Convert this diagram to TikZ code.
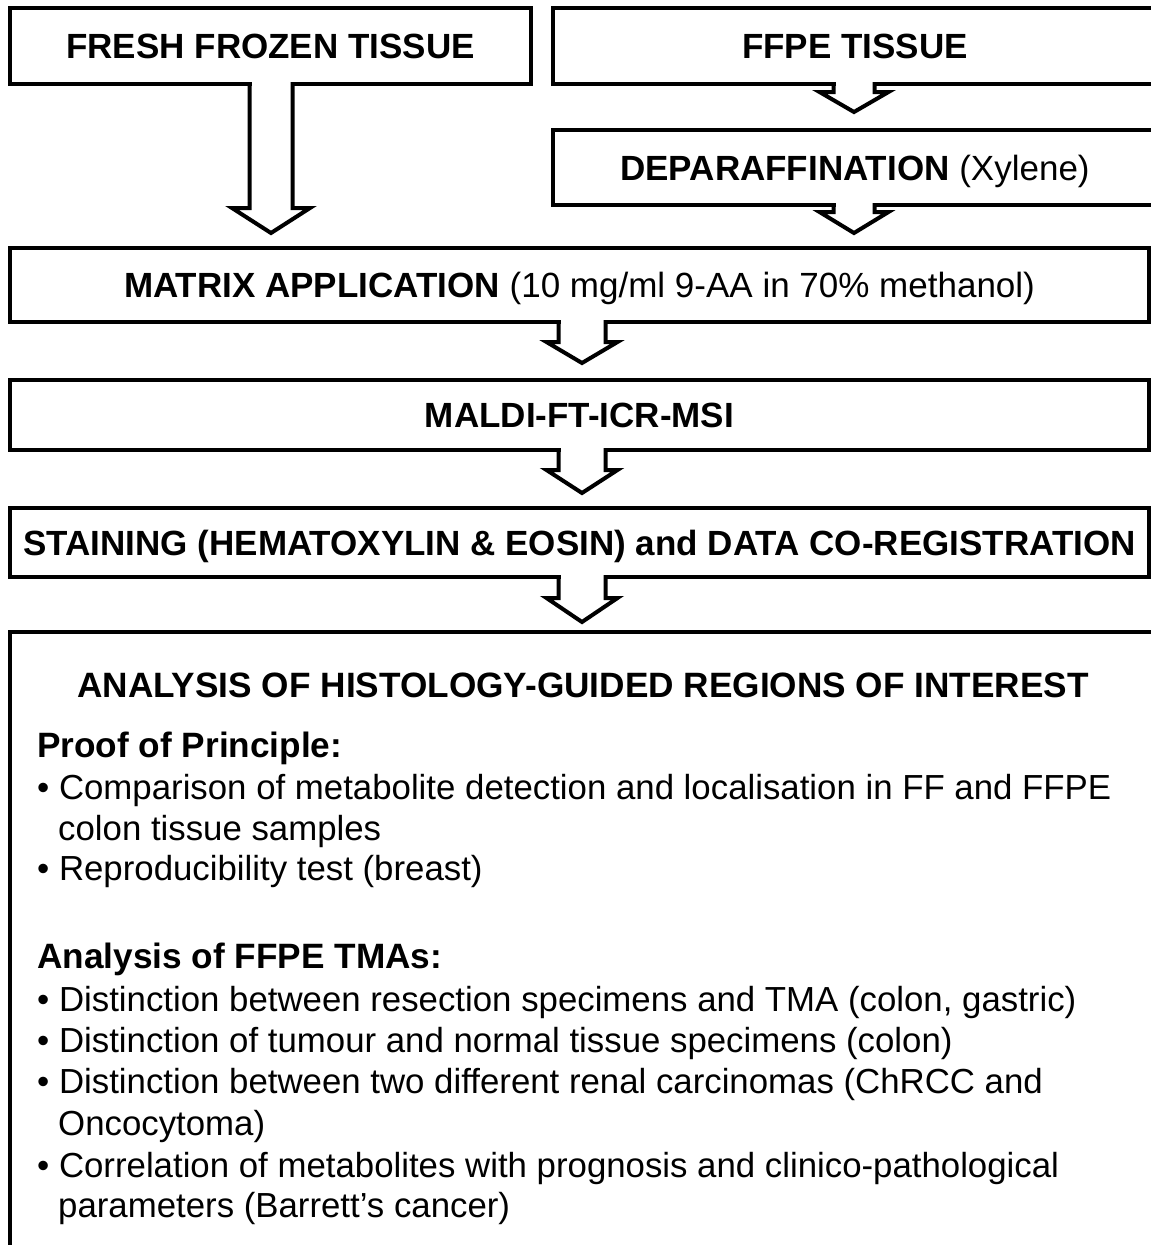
\documentclass[tikz,border=0pt]{standalone}
\usepackage{fontspec}
\setmainfont{Liberation Sans}
\usetikzlibrary{calc}
\newcommand\titlefont{\fontsize{35pt}{42pt}\selectfont\bfseries}
\newcommand\plainfont{\mdseries}
\newcommand\bodyfont{\fontsize{34.8pt}{41pt}\selectfont}
\newcommand\headfont{\fontsize{35.2pt}{42pt}\selectfont\bfseries}
% block arrow fused with the bottom edge of a box
% #1 from node, #2 to node, #3 x offset, #4 shaft half width,
% #5 head half width, #6 head length, #7 gap above target
\newcommand\blockarrow[7]{%
  \coordinate (ba-s) at ($(#1.south)+(#3,0)$);
  \coordinate (ba-t) at ($(ba-s |- #2.north)+(0,-#7)$);
  \coordinate (ba-h) at ($(ba-t)+(0,-#6)$);
  \fill[white] ($(ba-s)+(-#4+2,-4)$) rectangle ($(ba-h)+(#4-2,0)$);
  \draw[arrowline] ($(ba-s)+(-#4,-2)$) -- ($(ba-h)+(-#4,0)$) -- ($(ba-h)+(-#5,0)$)
     -- (ba-t) -- ($(ba-h)+(#5,0)$) -- ($(ba-h)+(#4,0)$) -- ($(ba-s)+(#4,-2)$);
}
\begin{document}
\begin{tikzpicture}[x=1pt,y=-1pt,
  box/.style={draw, line width=4pt, fill=white, inner sep=0pt, outer sep=0pt,
    text height=25pt, text depth=0pt, font=\titlefont},
  arrowline/.style={line width=4pt, line join=miter},
  bodyline/.style={anchor=base west, inner sep=0pt, font=\bodyfont},
  headline/.style={anchor=base west, inner sep=0pt, font=\headfont}]
\useasboundingbox (0,0) rectangle (1151,1245);
\clip (0,0) rectangle (1151,1245);

% boxes
\node[box, minimum width=521pt, minimum height=76pt] (ff) at (270.5,46) {FRESH FROZEN TISSUE};
\node[box, minimum width=604pt, minimum height=76pt] (ffpe) at (855,46) {FFPE TISSUE};
\node[box, minimum width=604pt, minimum height=75pt] (dep) at (855,167.5) {DEPARAFFINATION {\plainfont (Xylene)}};
\node[box, minimum width=1139pt, minimum height=74pt] (mat) at (579.5,285) {MATRIX APPLICATION {\plainfont (10 mg/ml 9-AA in 70\% methanol)}};
\node[box, minimum width=1139pt, minimum height=70pt] (maldi) at (579.5,415) {MALDI-FT-ICR-MSI};
\node[box, minimum width=1139pt, minimum height=69pt] (stain) at (579.5,542.5) {STAINING (HEMATOXYLIN \& EOSIN) and DATA CO-REGISTRATION};
\node[box, minimum width=1150pt, minimum height=623pt] (anal) at (585,943.5) {};

% block arrows
\blockarrow{ff}{mat}{0.5}{21.5}{39}{25}{15}
\blockarrow{ffpe}{dep}{-1}{20.5}{34.5}{20}{18}
\blockarrow{dep}{mat}{-1}{20.5}{34.5}{21}{15}
\blockarrow{mat}{maldi}{2.5}{23.5}{35.5}{21}{17}
\blockarrow{maldi}{stain}{2.5}{23.5}{35.5}{23}{15}
\blockarrow{stain}{anal}{2.5}{23.5}{35.5}{24}{10}

% analysis box content
\node[anchor=base, inner sep=0pt, font=\headfont] (l1) at (583,697) {ANALYSIS OF HISTOLOGY-GUIDED REGIONS OF INTEREST};
\node[headline] (l2) at (37,757) {Proof of Principle:};
\node[bodyline] (l3) at (37,799) {• Comparison of metabolite detection and localisation in FF and FFPE};
\node[bodyline] (l4) at (58,840) {colon tissue samples};
\node[bodyline] (l5) at (37,880) {• Reproducibility test (breast)};
\node[headline] (l6) at (37,968) {Analysis of FFPE TMAs:};
\node[bodyline] (l7) at (37,1011) {• Distinction between resection specimens and TMA (colon, gastric)};
\node[bodyline] (l8) at (37,1052) {• Distinction of tumour and normal tissue specimens (colon)};
\node[bodyline] (l9) at (37,1093) {• Distinction between two different renal carcinomas (ChRCC and};
\node[bodyline] (l10) at (58,1135) {Oncocytoma)};
\node[bodyline] (l11) at (37,1177) {• Correlation of metabolites with prognosis and clinico-pathological};
\node[bodyline] (l12) at (58,1217) {parameters (Barrett’s cancer)};
\end{tikzpicture}
\end{document}
